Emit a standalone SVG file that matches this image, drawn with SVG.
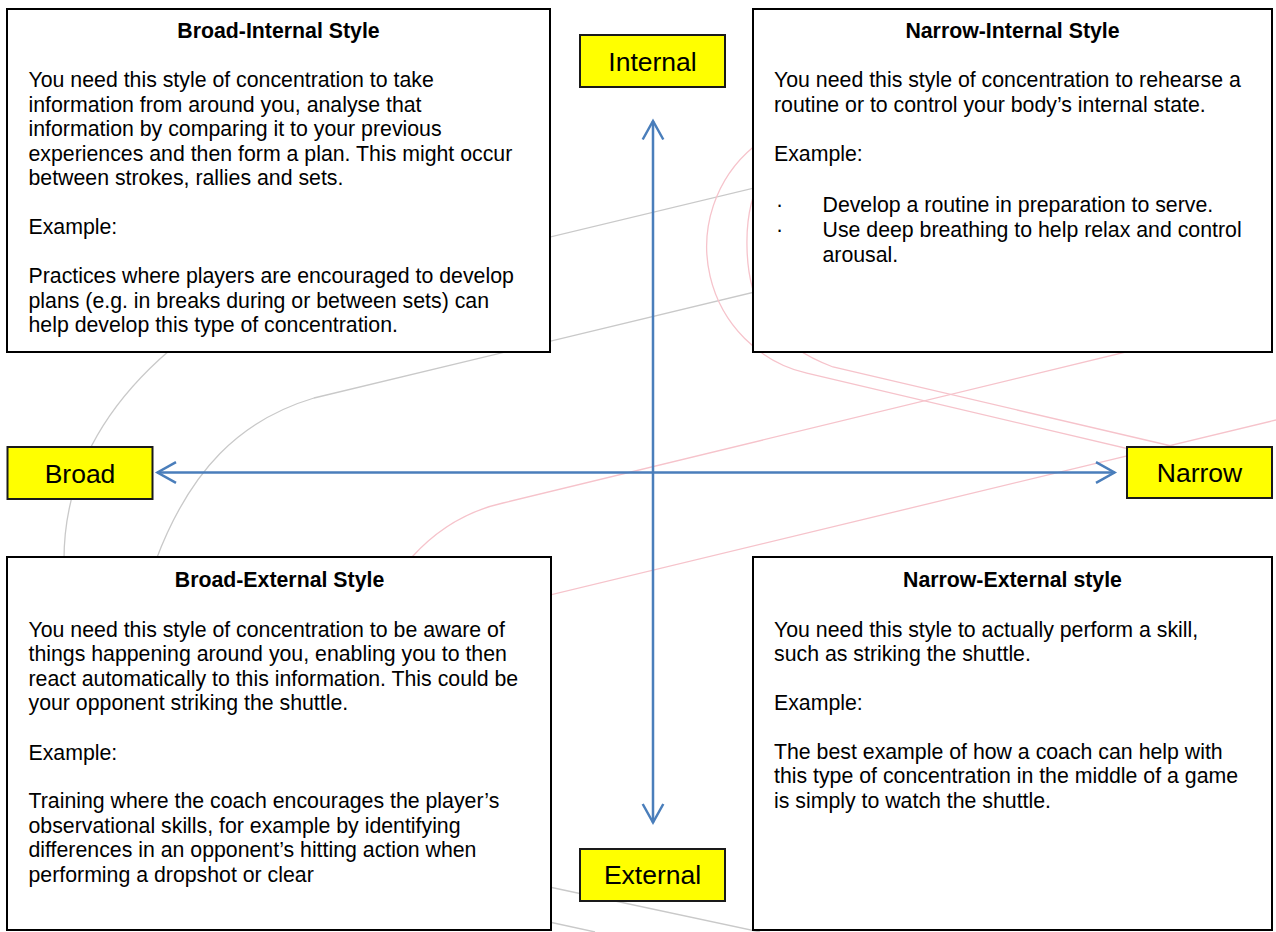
<svg xmlns="http://www.w3.org/2000/svg" width="1276" height="932" viewBox="0 0 1276 932">
<style>
.bg{fill:#ffffff}
.gray{fill:none;stroke:#c9c9c9;stroke-width:1.3}
.pink{fill:none;stroke:#f6c3cb;stroke-width:1.3}
.box{fill:#ffffff;stroke:#000000;stroke-width:2}
.lab{fill:#ffff00;stroke:#1a1a1a;stroke-width:2}
.t{font-family:"Liberation Sans",Arial,sans-serif;font-size:21.3px;fill:#000}
.h{font-family:"Liberation Sans",Arial,sans-serif;font-size:21.3px;font-weight:bold;fill:#000;text-anchor:middle}
.lt{font-family:"Liberation Sans",Arial,sans-serif;font-size:26.5px;fill:#000;text-anchor:middle}
.axis{fill:none;stroke:#4a7ebb;stroke-width:2.5}
</style>
<defs>
<marker id="arr" markerUnits="userSpaceOnUse" viewBox="-22 -14 26 28" refX="0" refY="0" markerWidth="26" markerHeight="28" orient="auto-start-reverse">
<path d="M -18.5 -10.3 L 0 0 L -18.5 10.3" fill="none" stroke="#4a7ebb" stroke-width="2.5" stroke-linejoin="miter"/>
</marker>
</defs>
<rect class="bg" x="0" y="0" width="1276" height="932"/>
<g id="background-lines">
<path class="gray" d="M 64 560 C 64 480 100 410 170 350"/>
<path class="gray" d="M 156 560 C 190 470 240 420 314 398 L 900 257"/>
<path class="gray" d="M 500 249 L 900 153"/>
<path class="gray" d="M 540 885 L 760 932"/>
<path class="gray" d="M 540 920 L 595 932"/>
<path class="pink" d="M 753.6 146.7 A 130 130 0 0 0 806.8 373.2 L 1180 461"/>
<path class="pink" d="M 800 140 Q 745 170 747 247 C 748 310 775 345 833 367 L 1180 448"/>
<path class="pink" d="M 412 557 Q 450 515 503 503 L 1200 334"/>
<path class="pink" d="M 500 607 L 1276 420"/>
</g>
<g id="node-broad-internal">
<rect class="box" x="7" y="9" width="543" height="343"/>
<text class="h" x="278.5" y="38.3">Broad-Internal Style</text>
<text class="t" x="28.5" y="87.3">You need this style of concentration to take</text>
<text class="t" x="28.5" y="111.8">information from around you, analyse that</text>
<text class="t" x="28.5" y="136.3">information by comparing it to your previous</text>
<text class="t" x="28.5" y="160.8">experiences and then form a plan. This might occur</text>
<text class="t" x="28.5" y="185.3">between strokes, rallies and sets.</text>
<text class="t" x="28.5" y="234.3">Example:</text>
<text class="t" x="28.5" y="283.3">Practices where players are encouraged to develop</text>
<text class="t" x="28.5" y="307.8">plans (e.g. in breaks during or between sets) can</text>
<text class="t" x="28.5" y="332.3">help develop this type of concentration.</text>
</g>
<g id="node-narrow-internal">
<rect class="box" x="753" y="9" width="519" height="343"/>
<text class="h" x="1012.5" y="38.3">Narrow-Internal Style</text>
<text class="t" x="774" y="87.3">You need this style of concentration to rehearse a</text>
<text class="t" x="774" y="112">routine or to control your body’s internal state.</text>
<text class="t" x="774" y="161.3">Example:</text>
<text class="t" x="776" y="211.5">·</text>
<text class="t" x="822.5" y="211.5">Develop a routine in preparation to serve.</text>
<text class="t" x="776" y="236.5">·</text>
<text class="t" x="822.5" y="236.5">Use deep breathing to help relax and control</text>
<text class="t" x="822.5" y="261.5">arousal.</text>
</g>
<g id="node-broad-external">
<rect class="box" x="7" y="557" width="544" height="373"/>
<text class="h" x="279.5" y="587">Broad-External Style</text>
<text class="t" x="28.5" y="636.5">You need this style of concentration to be aware of</text>
<text class="t" x="28.5" y="661">things happening around you, enabling you to then</text>
<text class="t" x="28.5" y="685.5">react automatically to this information. This could be</text>
<text class="t" x="28.5" y="710">your opponent striking the shuttle.</text>
<text class="t" x="28.5" y="759.5">Example:</text>
<text class="t" x="28.5" y="808">Training where the coach encourages the player’s</text>
<text class="t" x="28.5" y="832.5">observational skills, for example by identifying</text>
<text class="t" x="28.5" y="857">differences in an opponent’s hitting action when</text>
<text class="t" x="28.5" y="881.5">performing a dropshot or clear</text>
</g>
<g id="node-narrow-external">
<rect class="box" x="753" y="557" width="519" height="373"/>
<text class="h" x="1012.5" y="587">Narrow-External style</text>
<text class="t" x="774" y="636.5">You need this style to actually perform a skill,</text>
<text class="t" x="774" y="661">such as striking the shuttle.</text>
<text class="t" x="774" y="710">Example:</text>
<text class="t" x="774" y="758.5">The best example of how a coach can help with</text>
<text class="t" x="774" y="783">this type of concentration in the middle of a game</text>
<text class="t" x="774" y="807.5">is simply to watch the shuttle.</text>
</g>
<g id="connectors">
<line class="axis" x1="653" y1="121" x2="653" y2="822.5" marker-start="url(#arr)" marker-end="url(#arr)"/>
<line class="axis" x1="157.5" y1="472.5" x2="1114.5" y2="472.5" marker-start="url(#arr)" marker-end="url(#arr)"/>
</g>
<g id="label-internal">
<rect class="lab" x="580" y="35" width="145" height="52"/>
<text class="lt" x="652.5" y="70.5">Internal</text>
</g>
<g id="label-broad">
<rect class="lab" x="7.5" y="447" width="145" height="52"/>
<text class="lt" x="80" y="482.5">Broad</text>
</g>
<g id="label-narrow">
<rect class="lab" x="1127" y="447" width="145" height="51"/>
<text class="lt" x="1199.5" y="482">Narrow</text>
</g>
<g id="label-external">
<rect class="lab" x="580" y="849" width="145" height="52"/>
<text class="lt" x="652.5" y="883.5">External</text>
</g>
</svg>
